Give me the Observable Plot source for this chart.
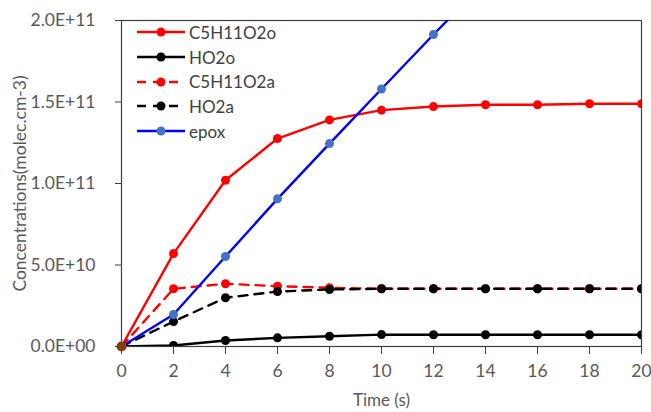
<!DOCTYPE html>
<html><head><meta charset="utf-8">
<script src="https://cdn.jsdelivr.net/npm/d3@7"></script>
<script src="https://cdn.jsdelivr.net/npm/@observablehq/plot@0.6"></script>
<style>
body{margin:0;background:#fff;}
#wrap{position:relative;width:651px;height:412px;}
#legend{position:absolute;left:136px;top:20px;font-family:Lato,sans-serif;font-size:17px;color:#404040;}
#legend .row{display:flex;align-items:center;height:24.7px;}
#legend svg{margin-right:3px;}
</style>
</head><body><div id="wrap"><div id="legend"></div></div>
<script>
const time = [0, 2, 4, 6, 8, 10, 12, 14, 16, 18, 20];
const C5H11O2o = [0, 0.57e11, 1.02e11, 1.276e11, 1.39e11, 1.45e11, 1.472e11, 1.483e11, 1.483e11, 1.489e11, 1.489e11];
const HO2o = [0, 0.006e11, 0.037e11, 0.053e11, 0.063e11, 0.073e11, 0.072e11, 0.072e11, 0.072e11, 0.072e11, 0.072e11];
const C5H11O2a = [0, 0.354e11, 0.385e11, 0.37e11, 0.36e11, 0.354e11, 0.354e11, 0.354e11, 0.354e11, 0.354e11, 0.354e11];
const HO2a = [0, 0.153e11, 0.299e11, 0.337e11, 0.35e11, 0.354e11, 0.354e11, 0.354e11, 0.354e11, 0.354e11, 0.354e11];
const epox = [0, 0.196e11, 0.552e11, 0.906e11, 1.245e11, 1.58e11, 1.914e11, 2.24e11];
const originMarker = [{t: 0, v: 0}];
const yTicks = [0, 5e10, 1e11, 1.5e11, 2e11];
const xTicks = [0, 2, 4, 6, 8, 10, 12, 14, 16, 18, 20];

const seriesNames = ["C5H11O2o", "HO2o", "C5H11O2a", "HO2a", "epox"];
const seriesValues = [C5H11O2o, HO2o, C5H11O2a, HO2a, epox];
const lineColors = ["#ff0000", "#000000", "#ff0000", "#000000", "#0000ff"];
const dotColors = ["#ff0000", "#000000", "#ff0000", "#000000", "#4472c4"];
const dashes = [null, null, "9,7", "9,7", null];

const rows = seriesNames.map((name, i) => seriesValues[i].map((v, j) => ({series: name, t: time[j], v})));

const fmt = v => {
  const [m, e] = d3.format(".1e")(v).split("e");
  return m + "E" + e[0] + e.slice(1).padStart(2, "0");
};

const marks = [
  Plot.frame({stroke: "#404040", strokeWidth: 1.2}),
  Plot.axisY({ticks: yTicks, tickFormat: fmt, tickSize: 6, tickPadding: 20, label: null, stroke: "#404040", fill: "#595959", fontSize: 17.5}),
  Plot.axisX({ticks: xTicks, tickFormat: d => d, tickSize: 8, tickPadding: 10, label: null, stroke: "#404040", fill: "#595959", fontSize: 17.5}),
  Plot.text(["Time (s)"], {frameAnchor: "bottom", dy: 59, fill: "#595959", fontSize: 17}),
  Plot.text(["Concentrations(molec.cm-3)"], {frameAnchor: "left", textAnchor: "middle", dx: -101, rotate: -90, fill: "#595959", fontSize: 17.5})
];
rows.forEach((data, i) => {
  marks.push(Plot.line(data, {x: "t", y: "v", stroke: lineColors[i], strokeWidth: 2.4, strokeDasharray: dashes[i], clip: true}));
  marks.push(Plot.dot(data, {x: "t", y: "v", fill: dotColors[i], r: 4.5, clip: true}));
});
marks.push(Plot.dot(originMarker, {x: "t", y: "v", fill: "#843c0c", r: 5}));

const chart = Plot.plot({
  width: 651, height: 412,
  marginLeft: 121, marginRight: 10, marginTop: 20, marginBottom: 66,
  x: {domain: [0, 20]},
  y: {domain: [0, 2e11]},
  style: {fontFamily: "Lato, sans-serif", fontSize: "17px", color: "#595959", background: "#fff"},
  marks
});
document.getElementById("wrap").prepend(chart);

const legend = document.getElementById("legend");
seriesNames.forEach((name, i) => {
  const row = document.createElement("div");
  row.className = "row";
  const dash = dashes[i] ? `stroke-dasharray="9,7"` : "";
  row.innerHTML = `<svg width="50" height="12"><line x1="1" x2="49" y1="6" y2="6" stroke="${lineColors[i]}" stroke-width="2.4" ${dash}/><circle cx="25" cy="6" r="4.5" fill="${dotColors[i]}"/></svg><span>${name}</span>`;
  legend.appendChild(row);
});
</script>
</body></html>
